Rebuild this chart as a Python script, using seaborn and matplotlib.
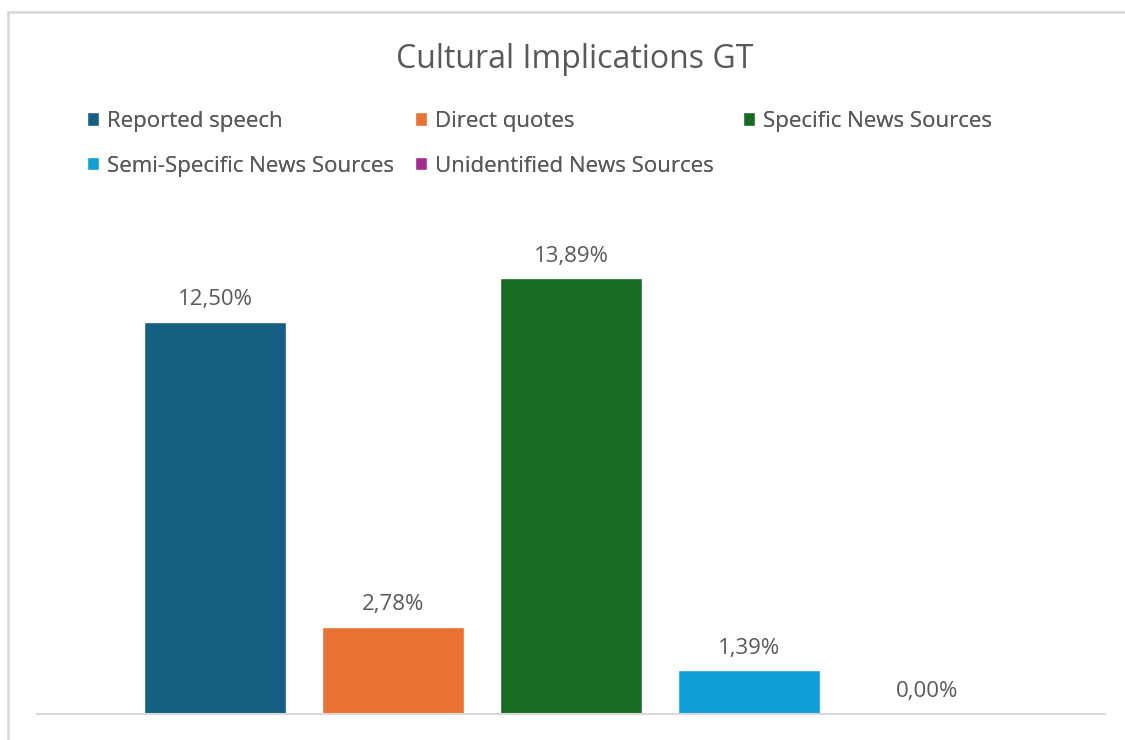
import matplotlib
matplotlib.use("Agg")
import matplotlib.pyplot as plt
from matplotlib.patches import Rectangle
import seaborn as sns
import pandas as pd

categories = [
    "Reported speech",
    "Direct quotes",
    "Specific News Sources",
    "Semi-Specific News Sources",
    "Unidentified News Sources",
]
shares = [12.50, 2.78, 13.89, 1.39, 0.00]
colors = ["#156082", "#E97132", "#196B24", "#0F9ED5", "#A02B93"]
title = "Cultural Implications GT"

TEXT = "#595959"
GRID = "#D9D9D9"

sns.set_theme(style="white")
plt.rcParams["font.family"] = ["Open Sans", "DejaVu Sans"]

W, H = 1125, 740
fig = plt.figure(figsize=(W / 100, H / 100), dpi=100)
fig.patch.set_facecolor("white")

# plot area in pixel units
left_px, right_px, base_px, top_px = 37, 1105, 714, 200
ax = fig.add_axes([left_px / W, (H - base_px) / H,
                   (right_px - left_px) / W, (base_px - top_px) / H])

df = pd.DataFrame({"category": categories, "share": shares})
sns.barplot(data=df, x="category", y="share", hue="category",
            palette=colors, order=categories, hue_order=categories,
            width=0.8, saturation=1, legend=True, ax=ax)

px_per_unit = (714 - 322) / 12.5
ax.set_ylim(0, (base_px - top_px) / px_per_unit)
ax.set_xlim(-1, 5)

for c in ax.containers:
    ax.bar_label(c, fmt=lambda v: f"{v:.2f}%".replace(".", ","),
                 padding=8.5, fontsize=16, color=TEXT)

ax.set_xlabel("")
ax.set_ylabel("")
ax.set_xticks([])
ax.set_yticks([])
for side in ("top", "left", "right"):
    ax.spines[side].set_visible(False)
ax.spines["bottom"].set_color(GRID)
ax.spines["bottom"].set_linewidth(1.5)

handles, labels = ax.get_legend_handles_labels()
ax.get_legend().remove()
hmap = dict(zip(labels, handles))

columns = [
    (87, ["Reported speech", "Semi-Specific News Sources"]),
    (415, ["Direct quotes", "Unidentified News Sources"]),
    (743, ["Specific News Sources"]),
]
for x_px, names in columns:
    leg = fig.legend([hmap[n] for n in names], names,
                     loc="upper left", bbox_to_anchor=(x_px / W, 1 - 111 / H),
                     frameon=False, fontsize=16, labelcolor=TEXT,
                     handlelength=0.56, handleheight=0.56, handletextpad=0.33,
                     labelspacing=1.06, borderpad=0, borderaxespad=0)
    fig.add_artist(leg)

fig.text(575 / W, 1 - 60 / H, title, ha="center", va="center",
         fontsize=23, color=TEXT)

# outer chart frame
fig.patches.append(Rectangle((8 / W, -0.1), 1.2, (H - 12) / H + 0.1,
                             transform=fig.transFigure, fill=False,
                             edgecolor=GRID, linewidth=2))

fig.savefig("out.png", dpi=100)
